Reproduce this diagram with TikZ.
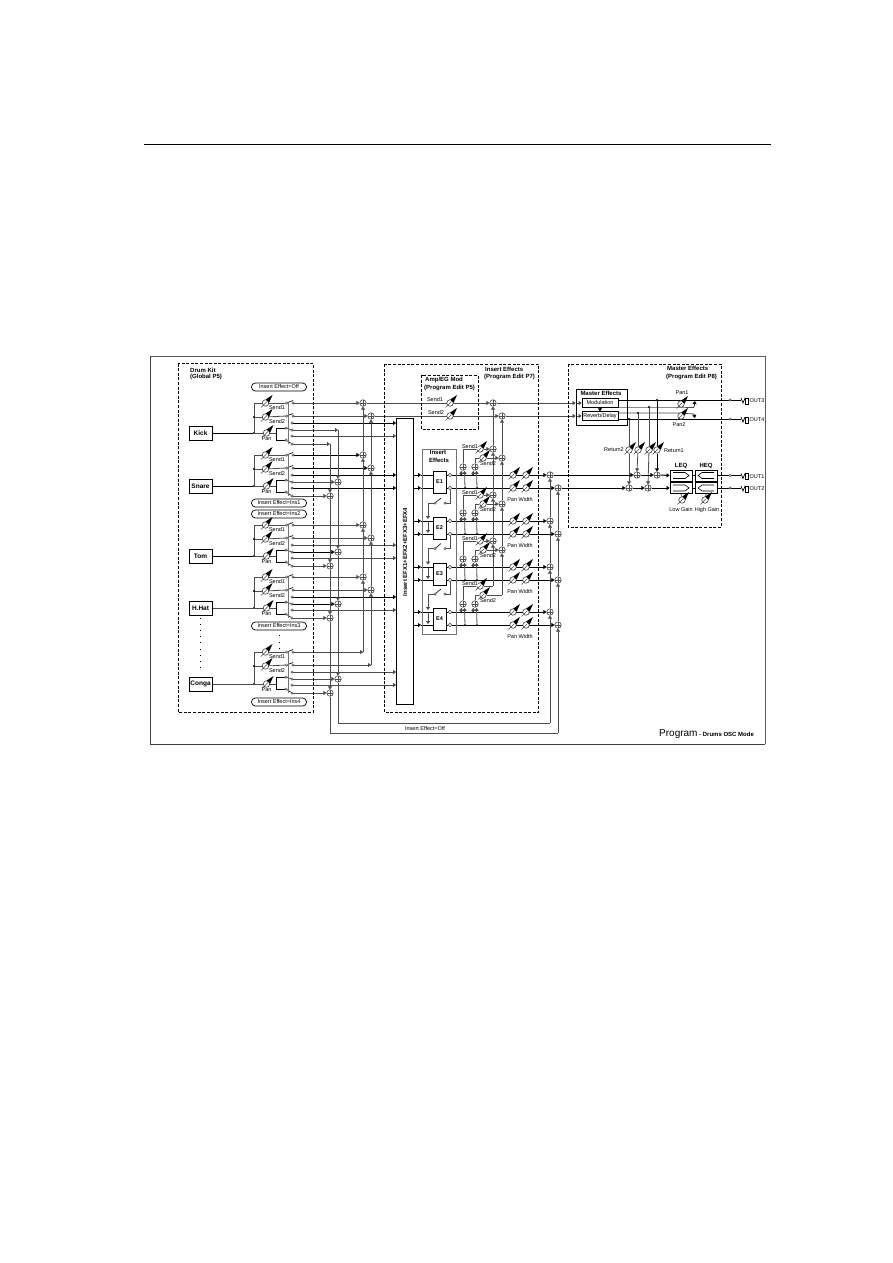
\documentclass[tikz,border=0pt]{standalone}
\usepackage{fontspec}
\setmainfont{Liberation Sans}
\usetikzlibrary{arrows.meta,calc}
\pgfdeclarelayer{back}
\pgfsetlayers{back,main}
\tikzset{
  lt/.style={line width=.8pt,draw=black!70},
  hv/.style={line width=1pt,draw=black},
  into/.style={-{Triangle[length=3pt,width=4pt]}},
  dash box/.style={draw=black,line width=.8pt,dash pattern=on 3pt off 1.6pt},
  sumnode/.style={circle,draw=black!70,fill=white,line width=.6pt,inner sep=0pt,minimum size=6.5pt,
    path picture={\draw[line width=.4pt] (path picture bounding box.north)--(path picture bounding box.south)
      (path picture bounding box.west)--(path picture bounding box.east);}},
  knobnode/.style={circle,draw=black!75,fill=white,line width=.6pt,inner sep=0pt,minimum size=6.5pt},
  contact/.style={circle,draw=black!75,fill=white,line width=.5pt,inner sep=0pt,minimum size=2.3pt},
  jn/.style={inner sep=0pt,minimum size=0pt,outer sep=0pt},
  dotnode/.style={circle,fill=black,inner sep=0pt,minimum size=2.2pt},
  instr/.style={draw=black,line width=.9pt,fill=white,minimum width=23pt,minimum height=14pt,inner sep=0pt,font=\fontsize{6.5}{7}\selectfont\bfseries},
  pill/.style={draw=black,line width=.7pt,rounded corners=3.8pt,fill=white,minimum width=55pt,minimum height=8pt,inner sep=0pt,font=\fontsize{5.5}{6}\selectfont},
  lbl/.style={inner sep=0pt,font=\fontsize{5.5}{6}\selectfont},
  title/.style={inner sep=0pt,font=\fontsize{6}{7}\selectfont\bfseries},
  plain box/.style={draw=black,line width=.7pt,fill=white,inner sep=0pt},
  eqcell/.style={draw=black,line width=.8pt,fill=white,inner sep=0pt,minimum width=22pt,minimum height=11pt},
}
% A rotary level control: dial, pointer and wedge
\newcommand\knob[3]{%
  \node[knobnode] (#1) at (#2,#3) {};
  \begin{scope}[shift={(#2,#3)}]
    \draw[line width=.5pt,black!70] (-4.5,4.5)--(1.5,-1.5);
    \fill (.3,-3.6)--(3.6,-.3)--(7,-8)--cycle;
  \end{scope}}
% A two-way mixing point
\newcommand\outlet[4]{%
  \coordinate (#1) at (741,#2);
  \draw[line width=.7pt] (741,#2-2)--(743,#2+3)--(745,#2-2);
  \node[draw=black,line width=.6pt,minimum width=2.5pt,minimum height=6pt,inner sep=0pt] (#1box) at (747,#2+1) {};
  \node[lbl,anchor=west] (#1txt) at (749.5,#2+1) {#3};
  \node[contact] (#1dot) at (730,#2) {};
  #4}
\begin{document}
\begin{tikzpicture}[x=1pt,y=-1pt]
\path[use as bounding box] (0,0) rectangle (893,1263);
\begin{pgfonlayer}{back}
  \fill[white] (0,0) rectangle (893,1263);
\end{pgfonlayer}

% Page rule and the outer frame
\draw[line width=1pt] (144,144.5)--(771,144.5);
\draw[line width=1pt,black!65] (150.5,356)--(765,356)--(765,744.3);
\draw[line width=1pt,black!75] (150.5,356)--(150.5,744.3)--(765,744.3);

% Dashed sections
\draw[dash box] (178,363.5) rectangle (313.5,712);
\draw[dash box] (384.5,364) rectangle (538.5,712.5);
\draw[dash box] (568,364) rectangle (721,527);
\draw[dash box] (421.5,375) rectangle (478,429);
\draw[line width=.8pt,black!55] (422.5,449) rectangle (456.5,634.5);

\node[title,anchor=west] (tDrumA) at (190,370) {Drum Kit};
\node[title,anchor=west] (tDrumB) at (190,377) {(Global P5)};
\node[title,anchor=west] (tInsA) at (485,369) {Insert Effects};
\node[title,anchor=west] (tInsB) at (484,376.5) {(Program Edit P7)};
\node[title,anchor=west] (tMasA) at (667,368) {Master Effects};
\node[title,anchor=west] (tMasB) at (666,376.5) {(Program Edit P8)};
\node[title,anchor=west] (tAmpA) at (425,380) {Amp/EG Mod};
\node[title,anchor=west] (tAmpB) at (424,388) {(Program Edit P5)};
\node[title] (tFxA) at (438,452) {Insert};
\node[title] (tFxB) at (439,460) {Effects};

\node[pill] (pOff) at (279,387) {Insert Effect=Off};
\node[pill] (pIa) at (279,503) {Insert Effect=Ins1};
\node[pill] (pIb) at (279,514) {Insert Effect=Ins2};
\node[pill] (pIc) at (279,626) {Insert Effect=Ins3};
\node[pill] (pId) at (279,702) {Insert Effect=Ins4};

% Omitted instruments
\foreach \i in {0,...,8} \fill (199.5,618+6.1*\i) rectangle (201,619+6.1*\i);
\foreach \i in {0,1,2} \fill (278.5,635+6.5*\i) rectangle (280,636+6.5*\i);

% Insert effect bus column
\node[draw=black,line width=.8pt,fill=white,minimum width=17pt,minimum height=286pt,inner sep=0pt] (ifx) at (405,561) {};
\node[title,rotate=90] (ifxTxt) at (405,552) {Insert EFX1+EFX2+EFX3+EFX4};

% Mixing points on the send and pan buses
\foreach \rn/\rs in {ki/403,sn/455,to/525,hh/577}{
  \node[sumnode] (\rn A) at (363,\rs) {};
  \node[sumnode] (\rn B) at (371,\rs+13) {};
}
\node[jn] (coA) at (363,652) {};
\node[jn] (coB) at (371,665) {};
\node[jn] (kiL) at (338,430) {};
\node[jn] (kiR) at (330,444) {};
\foreach \rn/\rs in {sn/455,to/525,hh/577,co/652}{
  \node[sumnode] (\rn L) at (338,\rs+27) {};
  \node[sumnode] (\rn R) at (330,\rs+41) {};
}

% Instrument strips
\foreach \rn/\rs/\rb/\rt/\stA/\stB/\stC/\stD/\stE/\stF/\stG in {
  ki/403/433/Kick/lt/lt/hv/lt/lt/lt/hv,
  sn/455/486/Snare/hv/hv/hv/lt/hv/lt/hv,
  to/525/556/Tom/lt/lt/lt/hv/lt/lt/hv,
  hh/577/608/H.Hat/lt/lt/hv/hv/lt/lt/lt,
  co/652/684/Conga/lt/lt/lt/lt/lt/lt/lt}{
  \node[instr] (\rn box) at (200.5,\rb) {\rt};
  \knob{\rn k1}{265.5}{\rs}
  \knob{\rn k2}{265.5}{\rs+14}
  \knob{\rn k3}{266.5}{\rb}
  \node[lbl] (\rn t1) at (277,\rs+4.5) {Send1};
  \node[lbl] (\rn t2) at (277,\rs+18.5) {Send2};
  \node[lbl] (\rn t3) at (266.5,\rb+6) {Pan};
  \node[jn] (\rn j1) at (254,\rs) {};
  \node[dotnode] (\rn j2) at (254,\rs+14) {};
  \node[dotnode] (\rn j3) at (254,\rb) {};
  \node[contact] (\rn i1) at (286.5,\rs) {};
  \node[contact] (\rn i2) at (286.5,\rs+13) {};
  \node[contact] (\rn s1) at (293,\rs) {};
  \node[contact] (\rn s2) at (293,\rs+13) {};
  \node[contact] (\rn c1) at (292,\rs+20) {};
  \node[contact] (\rn c2) at (292,\rs+27) {};
  \node[contact] (\rn c3) at (292,\rs+33) {};
  \node[contact] (\rn c4) at (292,\rs+41) {};
  \node[jn] (\rn p0) at (276.5,\rb) {};
  \node[contact] (\rn p1) at (286,\rs+25) {};
  \node[contact] (\rn p2) at (286,\rs+37) {};
  \begin{pgfonlayer}{back}
    \draw[\stG] (\rn box) -- (\rn j3);
    \draw[lt] (\rn j1) -- (\rn j3);
    \draw[lt] (\rn j1) -- (\rn k1);
    \draw[lt] (\rn j2) -- (\rn k2);
    \draw[lt] (\rn j3) -- (\rn k3);
    \draw[lt] (\rn k1) -- (\rn i1);
    \draw[lt] (\rn k2) -- (\rn i2);
    \draw[lt] (\rn k3) -- (\rn p0);
    \draw[hv] (\rn p0) |- (\rn p1);
    \draw[hv] (\rn p0) |- (\rn p2);
    \draw[line width=.6pt] (\rn i1) -- ($(\rn s1)+(0,-2.5)$);
    \draw[line width=.6pt] (\rn i2) -- ($(\rn s2)+(0,-2.5)$);
    \draw[line width=.6pt] (\rn p1) -- (\rn c2);
    \draw[line width=.6pt] (\rn p2) -- (\rn c4);
    \draw[line width=.5pt,black!55] (\rn s1 -| 288.5,0) -- (\rn c4 -| 288.5,0);
    \draw[\stA,into] (\rn s1) -- (\rn A.west);
    \draw[\stB,into] (\rn s2) -- (\rn B.west);
    \draw[\stC,into] (\rn c1) -- (\rn c1 -| ifx.west);
    \draw[\stE,into] (\rn c3) -- (\rn c3 -| ifx.west);
    \draw[\stD,into] (\rn c2) -- (\rn L.west);
    \draw[\stF,into] (\rn c4) -- (\rn R.west);
  \end{pgfonlayer}
}

% Insert effect slots
\foreach \e/\r/\lab in {1/475/E1,2/521/E2,3/567/E3,4/612/E4}{
  \node[plain box,minimum width=13pt,minimum height=22pt,font=\fontsize{5.5}{6}\selectfont\bfseries] (fx\e) at (439.5,\r+7) {\lab};
  \node[contact,minimum size=3.5pt] (fo\e a) at (450,\r) {};
  \node[contact,minimum size=3.5pt] (fo\e b) at (450,\r+13) {};
  \node[sumnode] (mx\e a) at (463,\r-8) {};
  \node[sumnode] (mx\e b) at (475,\r-8) {};
  \node[sumnode] (oS\e) at (550,\r) {};
  \node[sumnode] (oT\e) at (558,\r+13) {};
  \knob{ks\e a}{480}{\r-26}
  \knob{ks\e b}{483}{\r-17}
  \knob{pw\e a}{513}{\r}
  \knob{pw\e b}{526}{\r}
  \knob{pw\e c}{513}{\r+13}
  \knob{pw\e d}{526}{\r+13}
  \node[lbl,fill=white] (fs\e a) at (470,\r-28.5) {Send1};
  \node[lbl] (fs\e b) at (488,\r-11) {Send2};
  \node[lbl] (pt\e) at (520,\r+25) {Pan Width};
  \node[jn] (mg\e a) at (463,\r-26) {};
  \node[jn] (mg\e b) at (475,\r-17) {};
  \begin{pgfonlayer}{back}
    \draw[hv,into] (ifx.east |- fo\e a) -- (421,\r);
    \draw[hv] (421,\r) -- (fx\e.west |- fo\e a);
    \draw[hv,into] (ifx.east |- fo\e b) -- (421,\r+13);
    \draw[hv] (421,\r+13) -- (fx\e.west |- fo\e b);
    \draw[hv] (fx\e.east |- fo\e a) -- (fo\e a);
    \draw[hv] (fx\e.east |- fo\e b) -- (fo\e b);
    \draw[hv,into] (fo\e a) -- (oS\e.west);
    \draw[hv,into] (fo\e b) -- (oT\e.west);
    \draw[lt,into] (461,\r) -- ($(mx\e a.south)+(-1.5,.3)$);
    \draw[lt,into] (465,\r+13) -- ($(mx\e a.south)+(1.5,.3)$);
    \draw[lt,into] (473,\r) -- ($(mx\e b.south)+(-1.5,.3)$);
    \draw[lt,into] (477,\r+13) -- ($(mx\e b.south)+(1.5,.3)$);
    \draw[lt] (mx\e a.north) -- (mg\e a) -- (ks\e a);
    \draw[lt] (mx\e b.north) -- (mg\e b) -- (ks\e b);
  \end{pgfonlayer}
  \fill (461,\r) circle (1) (465,\r+13) circle (1) (473,\r) circle (1) (477,\r+13) circle (1);
}

% Bypass switches between the slots
\foreach \a/\b/\y in {1/2/503,2/3/548.5,3/4/594}{
  \node[contact] (by\b a) at (445,\y) {};
  \node[contact] (by\b b) at (435,\y) {};
  \node[jn] (by\b c) at (428,\y) {};
  \begin{pgfonlayer}{back}
    \draw[lt] (fo\a b) |- (by\b a);
    \draw[line width=.6pt] (by\b b) -- (441,\y-5);
    \draw[lt] (by\b b) -- (by\b c);
    \draw[lt,into] (by\b c) -- (428,\y+16);
  \end{pgfonlayer}
}
\begin{pgfonlayer}{back}
  \foreach \b/\r in {2/521,3/567,4/612} \draw[lt,into] (428,\r+1) -- (428,\r+12);
\end{pgfonlayer}

% Effect send mixing points
\node[sumnode] (aS1) at (493,403) {};
\node[sumnode] (aS2) at (502,416) {};
\foreach \e/\r in {1/475,2/521,3/567}{
  \node[sumnode] (eA\e) at (493,\r-26) {};
  \node[sumnode] (eB\e) at (502,\r-17) {};
}
\node[jn] (eA4) at (493,586) {};
\node[jn] (eB4) at (502,595) {};

% Amp/EG send controls
\knob{amA}{450}{403}
\knob{amB}{450}{416}
\node[lbl] (amAt) at (435,400) {Send1};
\node[lbl] (amBt) at (436,413) {Send2};

% Master section
\node[draw=black,line width=.8pt,minimum width=51pt,minimum height=36pt,inner sep=0pt] (mBox) at (601.5,407) {};
\node[title] (mBoxT) at (601,393) {Master Effects};
\node[plain box,minimum width=36pt,minimum height=9pt,font=\fontsize{5.5}{6}\selectfont] (mod) at (600,402.5) {Modulation};
\node[plain box,minimum width=36pt,minimum height=8.5pt,font=\fontsize{5.5}{6}\selectfont] (rev) at (600,416) {Reverb/Delay};
\node[dotnode] (j4) at (657,400) {};
\node[dotnode] (j3) at (649,407) {};
\node[dotnode] (j2) at (638,413) {};
\node[dotnode] (j1) at (629,419) {};
\knob{rtA}{629}{450}
\knob{rtB}{638}{450}
\knob{rtC}{649}{450}
\knob{rtD}{657}{450}
\node[lbl,anchor=east] (rtL) at (624,449.5) {Return2};
\node[lbl,anchor=west] (rtR) at (664,450.5) {Return1};
\knob{pnA}{681}{404}
\knob{pnB}{681}{416}
\node[lbl] (pnAt) at (682,393) {Pan1};
\node[lbl] (pnBt) at (679,425) {Pan2};
\node[sumnode] (mL1) at (637,475) {};
\node[sumnode] (mL2) at (657,475) {};
\node[sumnode] (mR1) at (629,488) {};
\node[sumnode] (mR2) at (648,488) {};
\node[eqcell] (eqA) at (681,475.5) {};
\node[eqcell] (eqB) at (681,488) {};
\node[eqcell] (eqC) at (706,475.5) {};
\node[eqcell] (eqD) at (706,488) {};
\node[title] (eqAt) at (681,466) {LEQ};
\node[title] (eqCt) at (706,466) {HEQ};
\foreach \y in {475.5,488}{
  \draw[line width=.6pt] (673,\y-3)--(685,\y-3)--(689,\y)--(685,\y+3)--(673,\y+3);
  \draw[line width=.6pt] (714,\y-3)--(702,\y-3)--(698,\y)--(702,\y+3)--(714,\y+3);
}
\knob{lowK}{682}{500}
\knob{highK}{705}{500}
\node[lbl] (lowT) at (681,510) {Low Gain};
\node[lbl] (highT) at (707,510) {High Gain};

% Outputs
\outlet{oThree}{400}{OUT3}{}
\outlet{oFour}{419}{OUT4}{}
\outlet{oOne}{475.5}{OUT1}{}
\outlet{oTwo}{488}{OUT2}{}

\node[jn] (panUp) at (694,407) {};
\node[jn] (panDn) at (694,414) {};
\node[jn] (cL) at (338,723) {};
\node[jn] (cLr) at (550,723) {};
\node[jn] (cR) at (330,733) {};
\node[jn] (cRr) at (558,733) {};
\node[lbl] (botT) at (425,728.5) {Insert Effect=Off};
\node[inner sep=0pt,anchor=base west,font=\fontsize{10}{11}\selectfont] (prog) at (659,736) {Program};
\node[title,anchor=base west] (progB) at (699,736) {- Drums OSC Mode};

\begin{pgfonlayer}{back}
  % Send buses running up to the first strip
  \draw[lt] (cos1) -- (coA);
  \draw[lt] (cos2) -- (coB);
  \draw[lt,into] (coA) -- (hhA.south);
  \draw[lt,into] (hhA.north) -- (toA.south);
  \draw[lt,into] (toA.north) -- (snA.south);
  \draw[lt,into] (snA.north) -- (kiA.south);
  \draw[lt,into] (coB) -- (hhB.south);
  \draw[lt,into] (hhB.north) -- (toB.south);
  \draw[lt,into] (toB.north) -- (snB.south);
  \draw[lt,into] (snB.north) -- (kiB.south);
  % Dry buses running down, round the section and into the output mix
  \draw[lt,into] (kiL) -- (snL.north);
  \draw[lt,into] (snL.south) -- (toL.north);
  \draw[lt,into] (toL.south) -- (hhL.north);
  \draw[lt,into] (hhL.south) -- (coL.north);
  \draw[lt,into] (kiR) -- (snR.north);
  \draw[lt,into] (snR.south) -- (toR.north);
  \draw[lt,into] (toR.south) -- (hhR.north);
  \draw[lt,into] (hhR.south) -- (coR.north);
  \draw[lt,into] (coL.south) -- (cL) -- (cLr) -- (oS4.south);
  \draw[lt,into] (coR.south) -- (cR) -- (cRr) -- (oT4.south);
  \draw[lt,into] (oS4.north) -- (oS3.south);
  \draw[lt,into] (oS3.north) -- (oS2.south);
  \draw[lt,into] (oS2.north) -- (oS1.south);
  \draw[lt,into] (oT4.north) -- (oT3.south);
  \draw[lt,into] (oT3.north) -- (oT2.south);
  \draw[lt,into] (oT2.north) -- (oT1.south);
  % Insert effect sends
  \foreach \e in {1,2,3}{
    \draw[lt,into] (ks\e a) -- (eA\e.west);
    \draw[lt,into] (ks\e b) -- (eB\e.west);
  }
  \draw[lt] (ks4a) -- (eA4);
  \draw[lt] (ks4b) -- (eB4);
  \draw[lt,into] (eA4) -- (eA3.south);
  \draw[lt,into] (eA3.north) -- (eA2.south);
  \draw[lt,into] (eA2.north) -- (eA1.south);
  \draw[lt,into] (eA1.north) -- (aS1.south);
  \draw[lt,into] (eB4) -- (eB3.south);
  \draw[lt,into] (eB3.north) -- (eB2.south);
  \draw[lt,into] (eB2.north) -- (eB1.south);
  \draw[lt,into] (eB1.north) -- (aS2.south);
  % Master sends
  \draw[lt,into] (kiA.east) -- (aS1.west);
  \draw[lt,into] (kiB.east) -- (aS2.west);
  \draw[lt,into] (aS1.east) -- (mBox.west |- aS1);
  \draw[lt,into] (aS2.east) -- (mBox.west |- aS2);
  \draw[lt,into] (mBox.west |- aS1) -- (mod.west |- aS1);
  \draw[lt,into] (mBox.west |- aS2) -- (rev.west |- aS2);
  \draw[line width=.6pt,into] (mod.south) -- (rev.north);
  % Master outputs, returns and pan
  \draw[hv] (618,400) -- (oThree);
  \draw[lt] (619,407) -- (pnA.west |- j3) -- (panUp);
  \draw[lt] (618,413) -- (pnB.west |- j2) -- (panDn);
  \draw[hv] (618,419) -- (oFour);
  \draw[line width=.7pt,into] (panUp) -- (695,401);
  \draw[line width=.7pt,into] (panDn) -- (695,418);
  \draw[lt] (j1) -- (rtA);
  \draw[lt] (j2) -- (rtB);
  \draw[lt] (j3) -- (rtC);
  \draw[hv] (j4) -- (rtD);
  \draw[lt,into] (rtA) -- (mR1.north);
  \draw[lt,into] (rtB) -- (mL1.north);
  \draw[lt,into] (rtC) -- (mR2.north);
  \draw[hv,into] (rtD) -- (mL2.north);
  \draw[hv,into] (oS1.east) -- (mL1.west);
  \draw[hv,into] (mL1.east) -- (mL2.west);
  \draw[hv,into] (mL2.east) -- (eqA.west);
  \draw[hv,into] (oT1.east) -- (mR1.west);
  \draw[hv,into] (mR1.east) -- (mR2.west);
  \draw[hv,into] (mR2.east) -- (eqB.west);
  \draw[hv] (eqA) -- (eqC);
  \draw[hv] (eqB) -- (eqD);
  \draw[hv] (eqC.east) -- (oOne);
  \draw[hv] (eqD.east) -- (oTwo);
  \draw[lt] (eqB.south) -- (lowK);
  \draw[lt] (eqD.south) -- (highK);
\end{pgfonlayer}
\end{tikzpicture}
\end{document}
